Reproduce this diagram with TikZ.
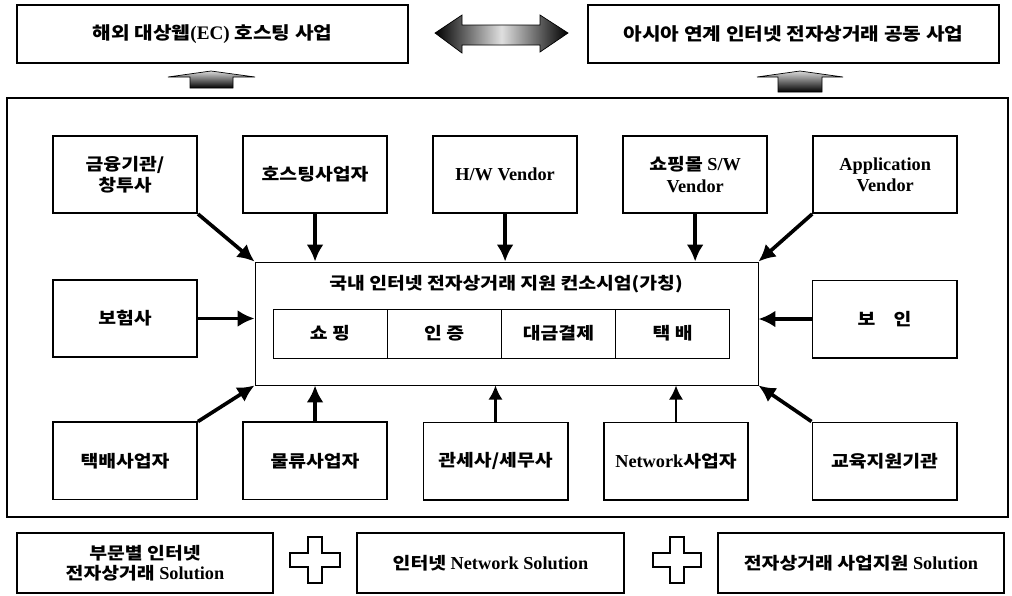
\documentclass[tikz,border=0pt]{standalone}
\usepackage{fontspec}
\setmainfont{Liberation Serif}
\newfontfamily\krfont{Noto Sans CJK KR}[FakeStretch=1.15, Scale=0.92]
\newcommand{\kr}[1]{{\krfont #1}}
\usetikzlibrary{shapes,arrows,arrows.meta}

\begin{document}
\begin{tikzpicture}[x=0.025cm, y=-0.025cm, node distance=4.75cm, auto]
        \tikzstyle{top} = [rectangle, draw, line width=0.9pt, minimum height=1.45cm, text centered, font=\bfseries\fontsize{13.6}{16}\selectfont]
        \tikzstyle{member} = [rectangle, draw, line width=1.4pt, minimum width=3.6cm, minimum height=1.925cm, align=center, font=\bfseries\fontsize{13}{15}\selectfont]
        \tikzstyle{cell} = [rectangle, draw, line width=0.6pt, minimum width=2.85cm, minimum height=1.225cm, font=\bfseries\fontsize{13}{15}\selectfont]
        \tikzstyle{solution} = [rectangle, draw, line width=0.8pt, minimum height=1.5cm, align=center, font=\bfseries\fontsize{13}{14.5}\selectfont]
        \tikzstyle{line} = [draw, line width=2.6pt, -{Latex[length=12pt,width=12pt]}]
        \tikzstyle{thinline} = [draw, line width=1.5pt, -{Latex[length=10pt,width=10pt]}]
        \tikzstyle{blockarrow} = [draw, line width=0.5pt, left color=black, right color=black, middle color=gray!25]

    \useasboundingbox (0,0) rectangle (1012,595);

    % top level
    \node [top, minimum width=9.775cm] (overseas) at (212.5,34) {\kr{해외 대상웹}(EC) \kr{호스팅 사업}};
    \node [top, minimum width=10.275cm] (asia) at (793.5,34) {\kr{아시아 연계 인터넷 전자상거래 공동 사업}};
    \path [blockarrow] (435,33) -- (462,15) -- (462,25) -- (540,25) -- (540,15) -- (568,33) -- (540,52) -- (540,45) -- (462,45) -- (462,53) -- cycle;
    \path [draw, line width=0.5pt, top color=gray!30, bottom color=black] (168,77) -- (211,71) -- (255,77) -- (233,77) -- (233,88) -- (190,88) -- (190,77) -- cycle;
    \path [draw, line width=0.5pt, top color=gray!30, bottom color=black] (757,77) -- (800,71) -- (843,77) -- (822,77) -- (822,92) -- (778,92) -- (778,77) -- cycle;

    \node [rectangle, draw, line width=1.6pt, minimum width=25.025cm, minimum height=10.475cm] (platform) at (507.5,307.5) {};

    % consortium
    \node [rectangle, draw, line width=0.6pt, minimum width=12.575cm, minimum height=3.075cm] (consortium) at (506.5,323.5) {};
    \node [font=\bfseries\fontsize{13}{15}\selectfont] (ctitle) at (506,284) {\kr{국내 인터넷 전자상거래 지원 컨소시엄(가칭)}};
    \node [cell] (shop) at (330,333.5) {\kr{쇼 핑}};
    \node [cell, right of=shop, node distance=2.855cm] (auth) {\kr{인 증}};
    \node [cell, right of=auth, node distance=2.855cm] (pay) {\kr{대금결제}};
    \node [cell, right of=pay, node distance=2.855cm] (deliv) {\kr{택 배}};

    % members
    \node [member] (finance) at (125,174.5) {\kr{금융기관/}\\\kr{창투사}};
    \node [member, right of=finance] (hosting) {\kr{호스팅사업자}};
    \node [member, right of=hosting] (hw) {H/W Vendor};
    \node [member, right of=hw] (sw) {\kr{쇼핑몰} S/W\\Vendor};
    \node [member, right of=sw] (app) {Application\\Vendor};

    \node [member] (insurance) at (125,318.5) {\kr{보험사}};
    \node [member] (security) at (884.5,319) {\kr{보}\hspace{1em}\kr{인}};

    \node [member, below of=finance, node distance=7.16cm] (parcel) {\kr{택배사업자}};
    \node [member, below of=hosting, node distance=7.16cm] (logistics) {\kr{물류사업자}};
    \node [member] (customs) at (495.5,461) {\kr{관세사/세무사}};
    \node [member] (network) at (676,461) {Network\kr{사업자}};
    \node [member] (edu) at (884.5,461) {\kr{교육지원기관}};

    \path [line] (finance.south east) -- (consortium.north west);
    \path [line] (hosting.south) -- (hosting.south |- consortium.north);
    \path [line] (hw.south) -- (hw.south |- consortium.north);
    \path [line] (sw.south) -- (sw.south |- consortium.north);
    \path [line] (app.south west) -- (consortium.north east);
    \path [line] (insurance.east) -- (consortium.west |- insurance.east);
    \path [line] (security.west) -- (consortium.east |- security.west);
    \path [line] (parcel.north east) -- (consortium.south west);
    \path [line] (logistics.north) -- (logistics.north |- consortium.south);
    \path [thinline] (customs.north) -- (customs.north |- consortium.south);
    \path [thinline] (network.north) -- (network.north |- consortium.south);
    \path [line] (edu.north west) -- (consortium.south east);

    % solutions
    \node [solution, minimum width=6.4cm] (sector) at (145,563) {\kr{부문별 인터넷}\\\kr{전자상거래} Solution};
    \node [solution, minimum width=6.675cm] (netsol) at (490.5,563) {\kr{인터넷} Network Solution};
    \node [solution, minimum width=7.15cm] (bizsol) at (861,563) {\kr{전자상거래 사업지원} Solution};
    \draw [line width=0.8pt, fill=white] (290,553) -- (308,553) -- (308,537) -- (322,537) -- (322,553) -- (340,553) -- (340,567) -- (322,567) -- (322,583) -- (308,583) -- (308,567) -- (290,567) -- cycle;
    \draw [line width=0.8pt, fill=white] (653,553) -- (670,553) -- (670,537) -- (684,537) -- (684,553) -- (701,553) -- (701,567) -- (684,567) -- (684,583) -- (670,583) -- (670,567) -- (653,567) -- cycle;
\end{tikzpicture}
\end{document}
